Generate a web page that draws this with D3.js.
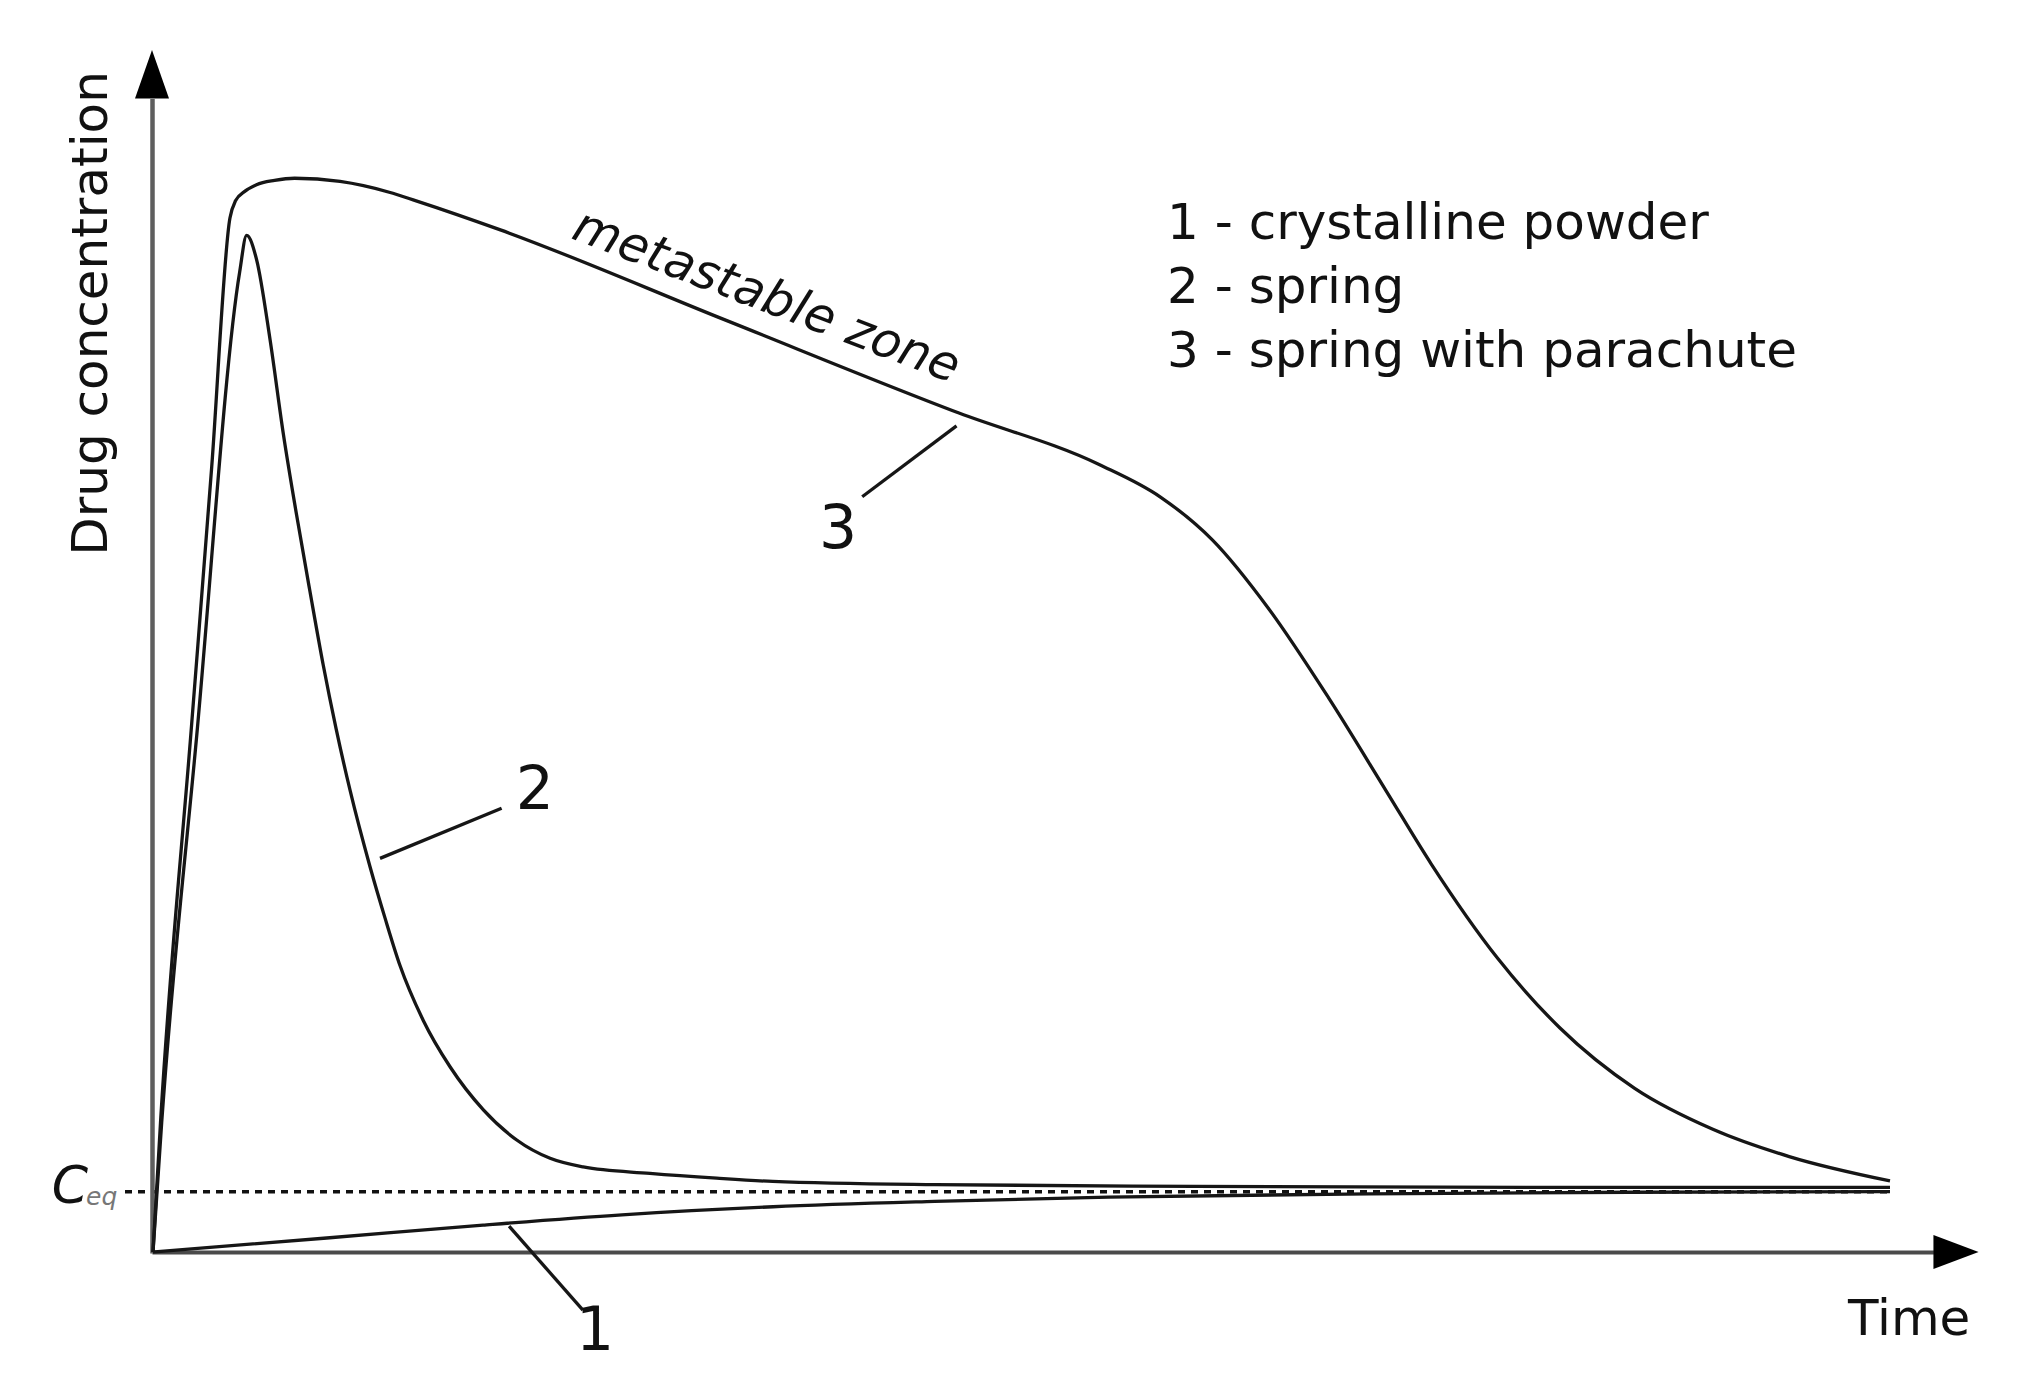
<!DOCTYPE html>
<html><head><meta charset="utf-8">
<script src="https://cdn.jsdelivr.net/npm/d3@7"></script>
<style>html,body{margin:0;background:#fff;} svg{display:block;font-family:"DejaVu Sans",sans-serif;}</style>
</head><body><svg id="c" width="2037" height="1379"></svg>
<script>
// ---- data (time in arbitrary units 0..100, concentration 0..100) ----
const legendLabels = ["1 - crystalline powder", "2 - spring", "3 - spring with parachute"];
const yTitle = "Drug concentration";
const xTitle = "Time";
const zoneLabel = "metastable zone";
const ceqLabel = ["C", "eq"];
const ceqValue = 5.6;

// 1 - crystalline powder
const time1 = [0, 10, 19, 27, 35.7, 45, 55, 70, 85, 100];
const conc1 = [0, 1.3, 2.5, 3.45, 4.2, 4.7, 5.1, 5.4, 5.55, 5.6];

// 2 - spring
const time2 = [0, 0.5, 2.52, 4.99, 5.39, 5.97, 6.74, 7.5, 8.27, 9.04, 9.8, 10.54, 11.34, 12.49, 13.36, 14.22, 15.56, 17.1, 19.02, 20.94, 22.86, 24.77, 28.61, 32.45, 35.68, 45, 60, 80, 100];
const conc2 = [0, 12, 48, 91, 94.4, 92.1, 84.7, 76.0, 68.4, 61.3, 54.5, 48.6, 42.9, 35.8, 31.0, 26.6, 21.5, 17.2, 13.2, 10.4, 8.7, 7.9, 7.3, 6.85, 6.55, 6.25, 6.1, 6.0, 6.0];

// 3 - spring with parachute
const time3 = [0, 0.45, 2.23, 3.38, 4.43, 4.75, 5.3, 5.96, 7.0, 8.15, 10.77, 13.6, 15.15, 20, 33, 46.4, 54.5, 58.0, 61.0, 64.2, 67.7, 71.0, 73.6, 77.4, 81.0, 85.3, 89.8, 94.2, 100];
const conc3 = [0, 12.5, 49.1, 72.9, 96.0, 97.6, 98.5, 99.1, 99.5, 99.7, 99.4, 98.4, 97.6, 94.9, 86.5, 77.9, 73.1, 70.1, 66.1, 59.8, 51.4, 42.8, 36.0, 27.3, 20.8, 15.2, 11.4, 8.86, 6.6];

// annotation numbers with leader lines (data coordinates)
const annotNumbers = ["1", "2", "3"];
const leaderFrom = [[20.5, 2.4], [13.07, 36.55], [46.26, 76.7]];
const leaderTo = [[24.75, -5.4], [20.07, 41.2], [40.83, 70.13]];
const annotAt = [[25.45, -9.1], [21.99, 41.13], [39.44, 65.37]];
const zoneAt = [24.0, 94.15];
const axisEnds = {x: 102.5, xTip: 105.1, y: 107.1, yTip: 111.6};

// ---- drawing ----
const svg = d3.select("#c");
const x = d3.scaleLinear().domain([0, 100]).range([153, 1890]);
const y = d3.scaleLinear().domain([0, 100]).range([1252, 175]);

const ink = "#111";

// Ceq dotted line
svg.append("line")
  .attr("x1", 125).attr("x2", x(100))
  .attr("y1", y(ceqValue)).attr("y2", y(ceqValue))
  .attr("stroke", "#111").attr("stroke-width", 3.5)
  .attr("stroke-dasharray", "7,6");

// axes (line via d3 axis generator, no ticks)
const xAxisScale = d3.scaleLinear().domain([0, axisEnds.x]).range([x(0) - 1, x(axisEnds.x)]);
const yAxisScale = d3.scaleLinear().domain([0, axisEnds.y]).range([y(0) + 1, y(axisEnds.y)]);
const gx = svg.append("g").attr("transform", `translate(0,${y(0)})`)
  .call(d3.axisBottom(xAxisScale).tickValues([]).tickSizeOuter(0));
const gy = svg.append("g").attr("transform", `translate(${x(0) - 1},0)`)
  .call(d3.axisLeft(yAxisScale).tickValues([]).tickSizeOuter(0));
gx.select(".domain").attr("stroke", "#4a4a4a").attr("stroke-width", 4);
gy.select(".domain").attr("stroke", "#5e5e5e").attr("stroke-width", 4.5);

// arrow heads
const ax0 = x(axisEnds.x), axT = x(axisEnds.xTip), ay0 = y(0);
svg.append("path").attr("d", `M${ax0},${ay0 - 17}L${axT},${ay0}L${ax0},${ay0 + 17}Z`).attr("fill", "#000");
const by0 = y(axisEnds.y), byT = y(axisEnds.yTip), bx0 = x(0) - 1;
svg.append("path").attr("d", `M${bx0 - 17},${by0}L${bx0},${byT}L${bx0 + 17},${by0}Z`).attr("fill", "#000");

// curves
const line = d3.line().x(d => x(d[0])).y(d => y(d[1])).curve(d3.curveMonotoneX);
[[time1, conc1], [time2, conc2], [time3, conc3]].forEach(([t, c]) => {
  svg.append("path").datum(d3.zip(t, c)).attr("d", line)
    .attr("fill", "none").attr("stroke", "#161616").attr("stroke-width", 3.3)
    .attr("stroke-linejoin", "round");
});

// leader lines and numbers
annotNumbers.forEach((n, i) => {
  svg.append("line")
    .attr("x1", x(leaderFrom[i][0])).attr("y1", y(leaderFrom[i][1]))
    .attr("x2", x(leaderTo[i][0])).attr("y2", y(leaderTo[i][1]))
    .attr("stroke", "#161616").attr("stroke-width", 3.3);
  svg.append("text").attr("x", x(annotAt[i][0])).attr("y", y(annotAt[i][1]))
    .attr("text-anchor", "middle").attr("font-size", 60).attr("fill", ink).text(n);
});

// metastable zone label
svg.append("text")
  .attr("transform", `translate(${x(zoneAt[0])},${y(zoneAt[1])}) rotate(20.8)`)
  .attr("font-size", 49).attr("font-style", "italic").attr("fill", ink).text(zoneLabel);

// legend
legendLabels.forEach((s, i) => {
  svg.append("text").attr("x", 1167).attr("y", 239 + i * 64)
    .attr("font-size", 50).attr("fill", ink).text(s);
});

// axis titles
svg.append("text").attr("transform", "translate(107,313.5) rotate(-90)")
  .attr("text-anchor", "middle").attr("font-size", 50).attr("fill", ink).text(yTitle);
svg.append("text").attr("x", 1848).attr("y", 1335)
  .attr("font-size", 50).attr("fill", ink).text(xTitle);

// Ceq label
svg.append("text").attr("x", 88).attr("y", 1203).attr("text-anchor", "end")
  .attr("font-size", 52).attr("font-style", "italic").attr("fill", ink).text(ceqLabel[0]);
svg.append("text").attr("x", 86).attr("y", 1205)
  .attr("font-size", 25).attr("font-style", "italic").attr("fill", "#777").text(ceqLabel[1]);
</script></body></html>
